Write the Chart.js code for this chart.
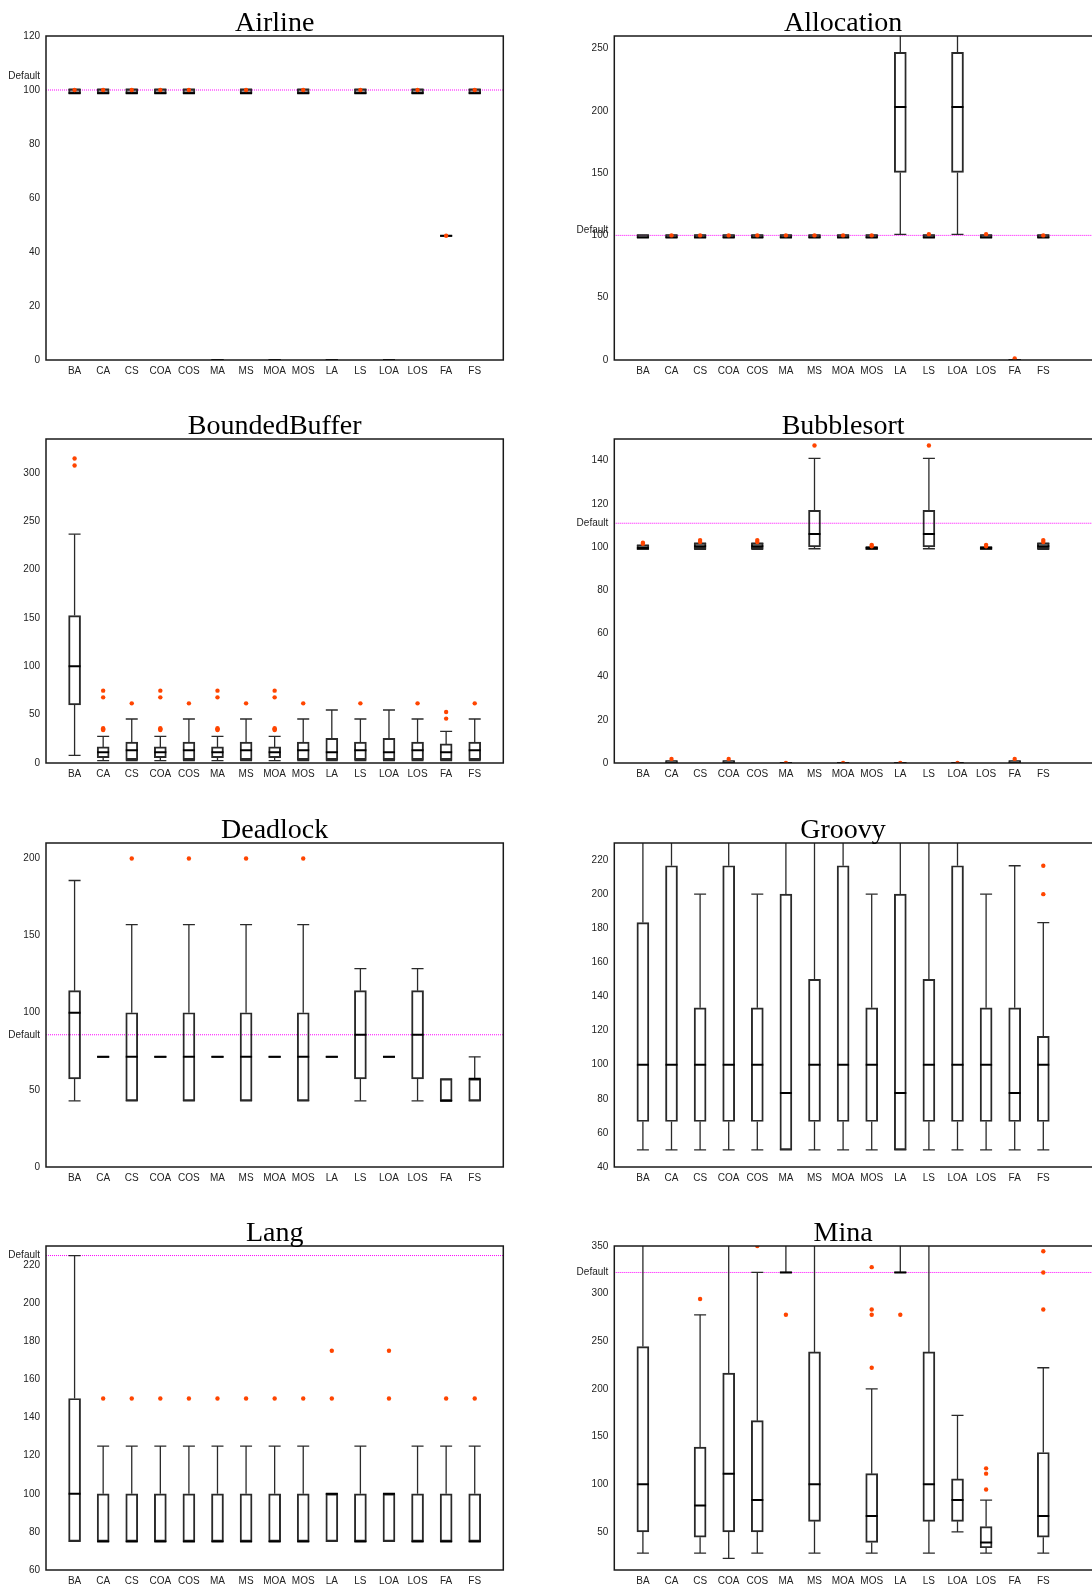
<!DOCTYPE html>
<html><head><meta charset="utf-8">
<script src="https://cdn.jsdelivr.net/npm/chart.js@4.4.1/dist/chart.umd.min.js"></script>
<style>
html,body{margin:0;padding:0;background:#fff;}
body{width:1092px;height:1587px;overflow:hidden;position:relative;}
canvas{position:absolute;display:block;}
</style>
</head><body>
<script>
const categories = ['BA','CA','CS','COA','COS','MA','MS','MOA','MOS','LA','LS','LOA','LOS','FA','FS'];

const panelTitles = ['Airline','Allocation','BoundedBuffer','Bubblesort','Deadlock','Groovy','Lang','Mina'];
const panelYMin = [0,0,0,0,0,40,60,10];
const panelYMax = [120,260,335,150,210,230,230,350];
const panelYTicks = [
  [0,20,40,60,80,100,120],
  [0,50,100,150,200,250],
  [0,50,100,150,200,250,300],
  [0,20,40,60,80,100,120,140],
  [0,50,100,150,200],
  [40,60,80,100,120,140,160,180,200,220],
  [60,80,100,120,140,160,180,200,220],
  [50,100,150,200,250,300,350]
];
const panelDefault = [100,100,null,111,85.71,null,225,322.22];
const panelDefaultLabelAt = [105,104.5,null,111,85.71,null,225,322.22];

// Airline
const airlineLow  = [98.8,98.8,98.8,98.8,98.8,0,98.8,0,98.8,0,98.8,0,98.8,46,98.8];
const airlineQ1   = [98.8,98.8,98.8,98.8,98.8,0,98.8,0,98.8,0,98.8,0,98.8,46,98.8];
const airlineMed  = [98.8,98.8,98.8,98.8,98.8,0,98.8,0,98.8,0,98.8,0,98.8,46,98.8];
const airlineQ3   = [100.3,100.3,100.3,100.3,100.3,0,100.3,0,100.3,0,100.3,0,100.3,46,100.3];
const airlineHigh = [100.3,100.3,100.3,100.3,100.3,0,100.3,0,100.3,0,100.3,0,100.3,46,100.3];
const airlineOut  = [[100],[100],[100],[100],[100],[],[100],[],[100],[],[100],[],[100],[46],[100]];

// Allocation
const allocLow  = [98.4,98.4,98.4,98.4,98.4,98.4,98.4,98.4,98.4,100.8,98.4,100.8,98.4,0,98.4];
const allocQ1   = [98.4,98.4,98.4,98.4,98.4,98.4,98.4,98.4,98.4,150.5,98.4,150.5,98.4,0,98.4];
const allocMed  = [98.4,98.4,98.4,98.4,98.4,98.4,98.4,98.4,98.4,203,98.4,203,98.4,0,98.4];
const allocQ3   = [100.4,100.4,100.4,100.4,100.4,100.4,100.4,100.4,100.4,246.8,100.4,246.8,100.4,0,100.4];
const allocHigh = [100.4,100.4,100.4,100.4,100.4,100.4,100.4,100.4,100.4,300,100.4,300,100.4,0,100.4];
const allocOut  = [[],[100],[100],[100],[100],[100],[100],[100],[100],[],[101],[],[101],[1.3],[100]];

// BoundedBuffer
const bbLow  = [7.9,2.4,2.4,2.4,2.4,2.4,2.4,2.4,2.4,2.4,2.4,2.4,2.4,2.4,2.4];
const bbQ1   = [60,5.5,3.4,5.5,3.4,5.5,3.4,5.5,3.4,3.4,3.4,3.4,3.4,3.4,3.4];
const bbMed  = [100,11,13.1,11,13.1,11,13.1,11,13.1,11,13.1,11,13.1,11,13.1];
const bbQ3   = [152.4,16.6,21.7,16.6,21.7,16.6,21.7,16.6,21.7,25.5,21.7,25.5,21.7,19.7,21.7];
const bbHigh = [236.6,27.6,45.5,27.6,45.5,27.6,45.5,27.6,45.5,54.8,45.5,54.8,45.5,32.8,45.5];
const bbOut  = [[314.8,307.6],[74.8,67.9,36,35,34],[61.7],[74.8,67.9,36,35,34],[61.7],[74.8,67.9,36,35,34],[61.7],[74.8,67.9,36,35,34],[61.7],[],[61.7],[],[61.7],[52.8,45.9],[61.7]];

// Bubblesort
const bsLow  = [98.9,0,98.9,0,98.9,0,99.2,0,98.9,0,99.2,0,98.9,0,98.9];
const bsQ1   = [98.9,0,99.2,0,99.2,0,100,0,98.9,0,100,0,98.9,0,99.2];
const bsMed  = [99.5,0,100.3,0,100.3,0,106,0,99.5,0,106,0,99.5,0,100.3];
const bsQ3   = [100.9,1,101.8,1,101.8,0,117,0,100,0,117,0,100,1,101.8];
const bsHigh = [100.9,1,101.8,1,101.8,0,141,0,100,0,141,0,100,1,101.8];
const bsOut  = [[102,101.5],[1.9],[103.2,102.3],[1.9],[103.2,102.3],[0],[147],[0],[101,100.3],[0],[147],[0],[101,100.3],[1.9],[103.2,102.3]];

// Deadlock
const dlLow  = [42.86,71.43,42.86,71.43,42.86,71.43,42.86,71.43,42.86,71.43,42.86,71.43,42.86,42.86,42.86];
const dlQ1   = [57.14,71.43,42.86,71.43,42.86,71.43,42.86,71.43,42.86,71.43,57.14,71.43,57.14,42.86,42.86];
const dlMed  = [100,71.43,71.43,71.43,71.43,71.43,71.43,71.43,71.43,71.43,85.71,71.43,85.71,42.86,57.14];
const dlQ3   = [114.29,71.43,100,71.43,100,71.43,100,71.43,100,71.43,114.29,71.43,114.29,57.14,57.14];
const dlHigh = [185.71,71.43,157.14,71.43,157.14,71.43,157.14,71.43,157.14,71.43,128.57,71.43,128.57,57.14,71.43];
const dlOut  = [[],[],[200],[],[200],[],[200],[],[200],[],[],[],[],[],[]];

// Groovy
const grLow  = [50,50,50,50,50,50,50,50,50,50,50,50,50,50,50];
const grQ1   = [66.67,66.67,66.67,66.67,66.67,50,66.67,66.67,66.67,50,66.67,66.67,66.67,66.67,66.67];
const grMed  = [100,100,100,100,100,83.33,100,100,100,83.33,100,100,100,83.33,100];
const grQ3   = [183.33,216.67,133.33,216.67,133.33,200,150,216.67,133.33,200,150,216.67,133.33,133.33,116.67];
const grHigh = [260,260,200,260,200,260,260,260,200,260,260,260,200,216.67,183.33];
const grOut  = [[],[],[],[],[],[],[],[],[],[],[],[],[],[],[200,216.67]];

// Lang
const lgLow  = [75,75,75,75,75,75,75,75,75,75,75,75,75,75,75];
const lgQ1   = [75,75,75,75,75,75,75,75,75,75,75,75,75,75,75];
const lgMed  = [100,75,75,75,75,75,75,75,75,100,75,100,75,75,75];
const lgQ3   = [150,100,100,100,100,100,100,100,100,100,100,100,100,100,100];
const lgHigh = [225,125,125,125,125,125,125,125,125,100,125,100,125,125,125];
const lgOut  = [[],[150],[150],[150],[150],[150],[150],[150],[150],[150,175],[],[150,175],[],[150],[150]];

// Mina
const mnLow  = [27.78,null,27.78,22.22,27.78,322.22,27.78,null,27.78,322.22,27.78,50,27.78,null,27.78];
const mnQ1   = [50,null,44.44,50,50,322.22,61.11,null,38.89,322.22,61.11,61.11,33.33,null,44.44];
const mnMed  = [100,null,77.78,111.11,83.33,322.22,100,null,66.67,322.22,100,83.33,38.89,null,66.67];
const mnQ3   = [244.44,null,138.89,216.67,166.67,322.22,238.89,null,111.11,322.22,238.89,105.56,55.56,null,133.33];
const mnHigh = [400,null,277.78,400,322.22,400,400,null,200,400,400,172.22,83.33,null,222.22];
const mnOut  = [[],[],[294.44],[],[350],[277.78],[],[],[222.22,277.78,283.33,327.78],[277.78],[],[],[116.67,111.11,94.44],[],[283.33,322.22,344.44]];

const panelSeries = [
  [airlineLow,airlineQ1,airlineMed,airlineQ3,airlineHigh,airlineOut],
  [allocLow,allocQ1,allocMed,allocQ3,allocHigh,allocOut],
  [bbLow,bbQ1,bbMed,bbQ3,bbHigh,bbOut],
  [bsLow,bsQ1,bsMed,bsQ3,bsHigh,bsOut],
  [dlLow,dlQ1,dlMed,dlQ3,dlHigh,dlOut],
  [grLow,grQ1,grMed,grQ3,grHigh,grOut],
  [lgLow,lgQ1,lgMed,lgQ3,lgHigh,lgOut],
  [mnLow,mnQ1,mnMed,mnQ3,mnHigh,mnOut]
];

Chart.defaults.font.family = '"Liberation Sans", Arial, sans-serif';
Chart.defaults.font.size = 10;
Chart.defaults.color = '#222';

const ROW_TOPS = [0, 403, 807, 1210];
const CANVAS_H = 403;

const panelDecor = {
  id: 'panelDecor',
  afterDraw(chart, args, opts) {
    const ctx = chart.ctx;
    const a = chart.chartArea;
    const xs = chart.scales.x, ys = chart.scales.y;
    ctx.save();
    // frame
    ctx.strokeStyle = '#1a1a1a';
    ctx.lineWidth = 1.5;
    ctx.strokeRect(a.left, a.top, a.right - a.left, a.bottom - a.top);
    // title
    ctx.fillStyle = '#000';
    ctx.font = '28px "Liberation Serif", "Times New Roman", serif';
    ctx.textAlign = 'center';
    ctx.textBaseline = 'alphabetic';
    ctx.fillText(opts.title, xs.getPixelForValue(8), a.top - 5);
    // Default label
    if (opts.defaultLabelAt != null) {
      ctx.font = '10px "Liberation Sans", Arial, sans-serif';
      ctx.fillStyle = '#222';
      ctx.textAlign = 'right';
      ctx.textBaseline = 'middle';
      ctx.fillText('Default', a.left - 6, ys.getPixelForValue(opts.defaultLabelAt));
    }
    ctx.restore();
  }
};

function makePanel(p) {
  const col = p % 2, row = Math.floor(p / 2);
  const [low, q1, med, q3, high, out] = panelSeries[p];
  const cw = col === 0 ? 546 : 600;
  const yWidth = col === 0 ? 46 : 68.3;
  const xMax = col === 0 ? 16 : 17;
  const plotW = col === 0 ? 457.3 : 486.2;
  const canvas = document.createElement('canvas');
  canvas.width = cw; canvas.height = CANVAS_H;
  canvas.style.width = cw + 'px'; canvas.style.height = CANVAS_H + 'px';
  canvas.style.left = (col === 0 ? 0 : 546) + 'px';
  canvas.style.top = ROW_TOPS[row] + 'px';
  document.body.appendChild(canvas);

  const boxes = [], whiskers = [], caps = [], medians = [], outliers = [];
  categories.forEach((c, i) => {
    const x = i + 1;
    if (low[i] != null) {
      boxes.push({x: x, y: [q1[i], q3[i]]});
      whiskers.push({x: x, y: low[i]}, {x: x, y: q1[i]}, {x: x, y: null},
                    {x: x, y: q3[i]}, {x: x, y: high[i]}, {x: x, y: null});
      caps.push({x: x, y: low[i]}, {x: x, y: high[i]});
      medians.push({x: x, y: med[i]});
    }
    out[i].forEach(v => outliers.push({x: x, y: v}));
  });
  const dflt = panelDefault[p];
  const defaultLine = dflt != null ? [{x: 0, y: dflt}, {x: xMax, y: dflt}] : [];

  new Chart(canvas, {
    type: 'bar',
    data: {
      datasets: [
        {type: 'scatter', data: outliers, pointStyle: 'circle', pointRadius: 2.2,
         pointBackgroundColor: '#ff4500', pointBorderWidth: 0, showLine: false},
        {type: 'scatter', data: medians, pointStyle: 'line', pointRadius: 6,
         pointBorderWidth: 2, pointBorderColor: '#000', showLine: false},
        {type: 'scatter', data: caps, pointStyle: 'line', pointRadius: 6,
         pointBorderWidth: 1.3, pointBorderColor: '#2a2a2a', showLine: false},
        {type: 'scatter', data: whiskers, showLine: true, spanGaps: false, pointRadius: 0,
         borderColor: '#2a2a2a', borderWidth: 1.3},
        {type: 'bar', data: boxes, barThickness: 12, borderWidth: 1.3, borderColor: '#2a2a2a',
         backgroundColor: 'rgba(255,255,255,0)', borderSkipped: false},
        {type: 'scatter', data: defaultLine, showLine: true, pointRadius: 0,
         borderColor: '#ff00ff', borderWidth: 1, borderDash: [1, 1]}
      ]
    },
    options: {
      responsive: false,
      animation: false,
      devicePixelRatio: 1,
      events: [],
      layout: {padding: {top: 36, left: 0, bottom: 0, right: cw - yWidth - plotW}},
      plugins: {
        legend: {display: false},
        tooltip: {enabled: false},
        title: {display: false},
        panelDecor: {title: panelTitles[p], defaultLabelAt: panelDefaultLabelAt[p]}
      },
      scales: {
        x: {
          type: 'linear', min: 0, max: xMax, offset: false,
          grid: {display: false, drawTicks: false},
          border: {display: false},
          afterFit: s => { s.height = 43; },
          afterBuildTicks: s => { s.ticks = categories.map((c, i) => ({value: i + 1})); },
          ticks: {autoSkip: false, maxRotation: 0, padding: 5,
                  callback: v => categories[v - 1] || ''}
        },
        y: {
          type: 'linear', min: panelYMin[p], max: panelYMax[p],
          grid: {display: false, drawTicks: false},
          border: {display: false},
          afterFit: s => { s.width = yWidth; },
          afterBuildTicks: s => { s.ticks = panelYTicks[p].map(v => ({value: v})); },
          ticks: {padding: 6, autoSkip: false}
        }
      }
    },
    plugins: [panelDecor]
  });
}

for (let p = 0; p < 8; p++) makePanel(p);
</script>
</body></html>
